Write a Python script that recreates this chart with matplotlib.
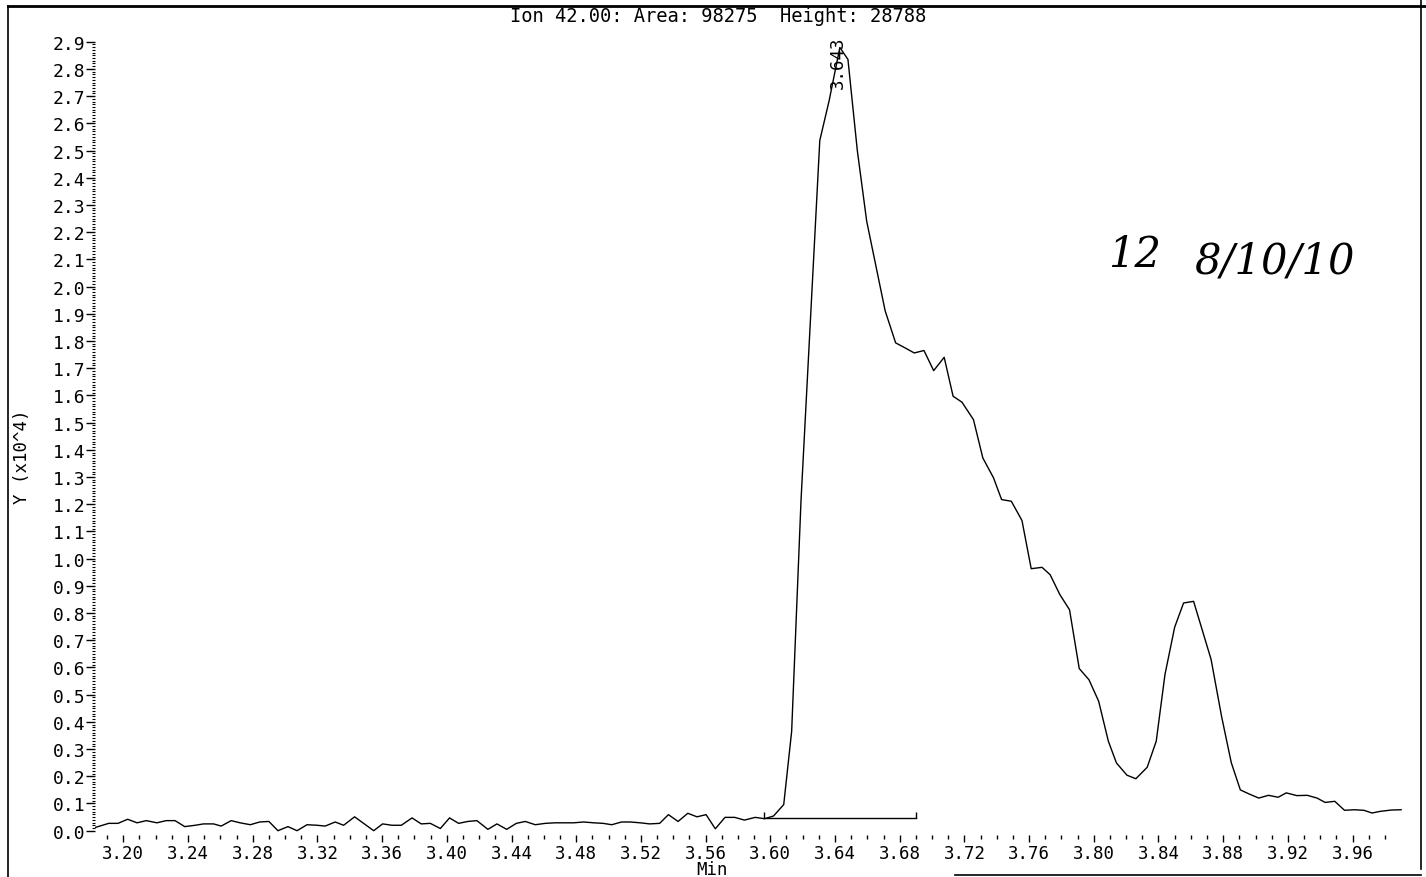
import numpy as np
import matplotlib.pyplot as plt
from matplotlib.lines import Line2D
from matplotlib.ticker import FixedLocator, FormatStrFormatter

plt.rcParams['font.family'] = ['DejaVu Sans Mono']

# Ion 42 trace: retention time (min) and intensity (x10^4)
rt = [3.1827, 3.1910, 3.1967, 3.2027, 3.2085, 3.2142, 3.2208, 3.2265, 3.2320, 3.2380,
      3.2445, 3.2496, 3.2558, 3.2605, 3.2667, 3.2722, 3.2785, 3.2843, 3.2900, 3.2956,
      3.3018, 3.3074, 3.3136, 3.3198, 3.3248, 3.3310, 3.3362, 3.3430, 3.3486, 3.3548,
      3.3603, 3.3661, 3.3719, 3.3785, 3.3842, 3.3898, 3.3960, 3.4017, 3.4073, 3.4130,
      3.4186, 3.4254, 3.4310, 3.4370, 3.4430, 3.4485, 3.4547, 3.4609, 3.4670, 3.4728,
      3.4784, 3.4846, 3.4908, 3.4966, 3.5020, 3.5080, 3.5134, 3.5196, 3.5254, 3.5316,
      3.5370, 3.5430, 3.5490, 3.5547, 3.5603, 3.5660, 3.5720, 3.5780, 3.5840, 3.5907,
      3.5965, 3.6020, 3.6083, 3.6132, 3.6190, 3.6248, 3.6306, 3.6364, 3.6430, 3.6480,
      3.6538, 3.6596, 3.6647, 3.6710, 3.6775, 3.6835, 3.6890, 3.6950, 3.7010, 3.7075,
      3.7130, 3.7185, 3.7256, 3.7314, 3.7380, 3.7430, 3.7490, 3.7556, 3.7613, 3.7680,
      3.7730, 3.7790, 3.7850, 3.7910, 3.7970, 3.8030, 3.8090, 3.8140, 3.8205, 3.8260,
      3.8330, 3.8386, 3.8440, 3.8500, 3.8555, 3.8617, 3.8725, 3.8790, 3.8850, 3.8906,
      3.8960, 3.9020, 3.9080, 3.9140, 3.9190, 3.9255, 3.9320, 3.9380, 3.9430, 3.9490,
      3.9550, 3.9610, 3.9670, 3.9720, 3.9770, 3.9840, 3.9900]
intensity = [0.012, 0.027, 0.027, 0.042, 0.029, 0.037, 0.029, 0.037, 0.037, 0.015,
             0.020, 0.025, 0.025, 0.017, 0.037, 0.029, 0.022, 0.032, 0.034, 0.000,
             0.015, 0.000, 0.022, 0.020, 0.017, 0.032, 0.020, 0.051, 0.027, 0.000,
             0.025, 0.020, 0.020, 0.047, 0.025, 0.027, 0.008, 0.047, 0.027, 0.034,
             0.037, 0.005, 0.025, 0.005, 0.027, 0.034, 0.022, 0.027, 0.029, 0.029,
             0.029, 0.032, 0.029, 0.027, 0.022, 0.032, 0.032, 0.029, 0.025, 0.027,
             0.059, 0.034, 0.064, 0.051, 0.059, 0.007, 0.049, 0.049, 0.039, 0.049,
             0.044, 0.054, 0.096, 0.365, 1.215, 1.876, 2.537, 2.684, 2.8788, 2.835,
             2.500, 2.240, 2.093, 1.911, 1.793, 1.774, 1.756, 1.765, 1.691, 1.740,
             1.597, 1.575, 1.511, 1.370, 1.297, 1.217, 1.211, 1.140, 0.963, 0.968,
             0.941, 0.868, 0.812, 0.596, 0.555, 0.476, 0.329, 0.249, 0.204, 0.191,
             0.233, 0.329, 0.574, 0.748, 0.837, 0.843, 0.630, 0.420, 0.250, 0.150,
             0.135, 0.120, 0.130, 0.123, 0.139, 0.129, 0.130, 0.120, 0.104, 0.108,
             0.075, 0.077, 0.075, 0.065, 0.071, 0.076, 0.077]

ion = 42.00
peak_area = 98275
peak_rt = 3.643
# integration baseline of the main peak
base_start, base_end, base_level = 3.596, 3.690, 0.046

x_major = [3.20, 3.24, 3.28, 3.32, 3.36, 3.40, 3.44, 3.48, 3.52, 3.56,
           3.60, 3.64, 3.68, 3.72, 3.76, 3.80, 3.84, 3.88, 3.92, 3.96]
y_major = [i / 10 for i in range(30)]

fig = plt.figure(figsize=(14.26, 8.78), dpi=100)
ax = fig.add_axes([95 / 1426, 42 / 878, 1310 / 1426, 806 / 878])

ax.plot(rt, intensity, color='black', lw=1.0)

# baseline with end markers
ax.plot([base_start, base_end], [base_level, base_level], color='black', lw=1.0)
ax.vlines([base_start, base_end], base_level, base_level + 0.024, color='black', lw=1.0)

peak_height = max(intensity)
ax.text(peak_rt - 0.0015, peak_height + 0.045, f'{peak_rt:.3f}', rotation=90,
        ha='center', va='top', fontsize=12.5)

ax.set_xlim(3.1825, 3.9924)
ax.set_ylim(-0.0158, 2.9467)
for s in ax.spines.values():
    s.set_visible(False)

ax.xaxis.set_major_locator(FixedLocator(x_major))
ax.xaxis.set_minor_locator(FixedLocator([3.19 + i * 0.01 for i in range(80)]))
ax.xaxis.set_major_formatter(FormatStrFormatter('%.2f'))
ax.yaxis.set_major_locator(FixedLocator(y_major))
ax.yaxis.set_minor_locator(FixedLocator([i / 100 for i in range(291)]))
ax.yaxis.set_major_formatter(FormatStrFormatter('%.1f'))

ax.tick_params(axis='x', which='major', direction='out', length=5, width=1, pad=1.5, labelsize=12.5)
ax.tick_params(axis='x', which='minor', direction='out', length=3, width=1)
ax.tick_params(axis='y', which='major', direction='out', length=6.5, width=1, pad=0.7, labelsize=13)
ax.tick_params(axis='y', which='minor', direction='out', length=2.5, width=0.8)

# titles and axis labels
fig.text(718 / 1426, 1 - 17 / 878,
         f'Ion {ion:.2f}: Area: {peak_area}  Height: {round(peak_height * 1e4)}',
         ha='center', va='center', fontsize=13.5)
fig.text(712 / 1426, 1 - 875.5 / 878, 'Min', ha='center', va='baseline', fontsize=12.5)
fig.text(712 / 1426, 1 - 3.5 / 878, 'Min', ha='center', va='bottom', fontsize=12.5)
fig.text(22 / 1426, 1 - 457 / 878, 'Y (x10^4)', rotation=90, ha='center', va='center', fontsize=12.5)

# handwritten note
fig.text(1135 / 1426, 1 - 255 / 878, '12', ha='center', va='center', fontsize=30,
         fontstyle='italic', family='DejaVu Serif')
fig.text(1275 / 1426, 1 - 262 / 878, '8/10/10', ha='center', va='center', fontsize=30,
         fontstyle='italic', family='DejaVu Serif')

# page frame
W, H = 1426, 878
fig.add_artist(Line2D([8 / W, 1], [1 - 7 / H, 1 - 7 / H], color='black', lw=2, transform=fig.transFigure))
fig.add_artist(Line2D([8 / W, 8 / W], [0, 1 - 7 / H], color='black', lw=1.2, transform=fig.transFigure))
fig.add_artist(Line2D([1421 / W, 1421 / W], [1 - 870 / H, 1], color='black', lw=1.2, transform=fig.transFigure))
fig.add_artist(Line2D([955 / W, 1421 / W], [1 - 876 / H, 1 - 876 / H], color='black', lw=1.2, transform=fig.transFigure))

fig.savefig('out.png', dpi=100)
